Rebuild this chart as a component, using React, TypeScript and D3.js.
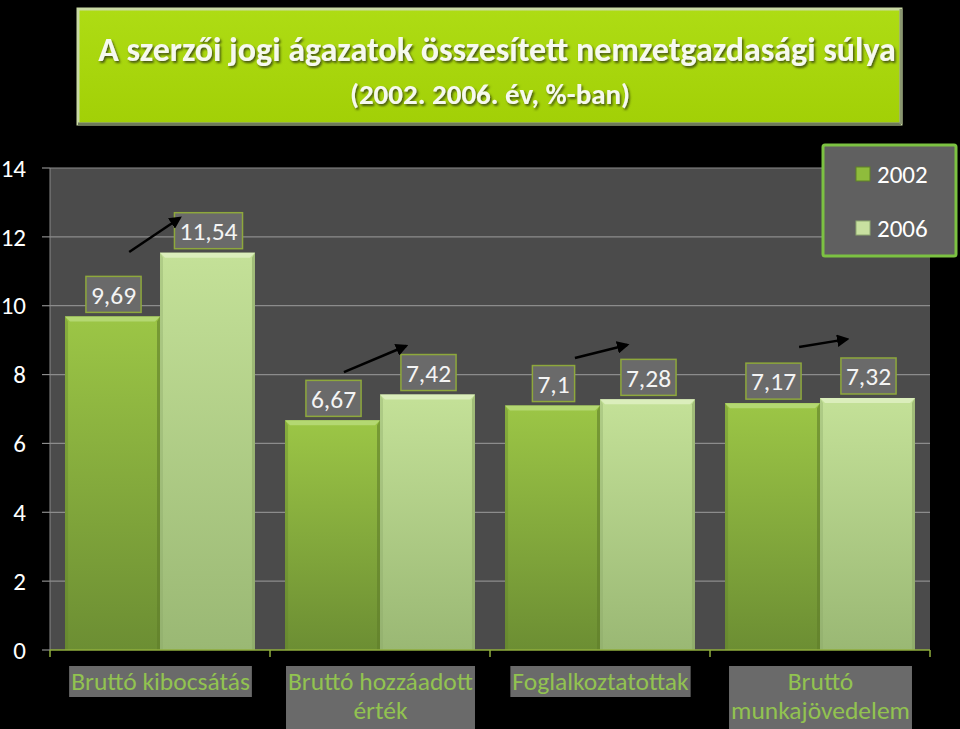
import React, { useEffect, useRef } from "react";
import * as d3 from "d3";

const categories: string[][] = [
  ["Bruttó kibocsátás"],
  ["Bruttó hozzáadott", "érték"],
  ["Foglalkoztatottak"],
  ["Bruttó", "munkajövedelem"],
];
const categoryKeys = ["k1", "k2", "k3", "k4"];
const seriesNames = ["2002", "2006"];
const values2002 = [9.69, 6.67, 7.1, 7.17];
const values2006 = [11.54, 7.42, 7.28, 7.32];
const labels2002 = ["9,69", "6,67", "7,1", "7,17"];
const labels2006 = ["11,54", "7,42", "7,28", "7,32"];
const yTicks = [0, 2, 4, 6, 8, 10, 12, 14];
// arrows: category index, start/end position within category (fraction), start/end value
const arrowCat = [0, 1, 2, 3];
const arrowX0 = [0.36, 0.336, 0.386, 0.405];
const arrowX1 = [0.59, 0.618, 0.623, 0.623];
const arrowV0 = [11.56, 8.07, 8.48, 8.8];
const arrowV1 = [12.55, 8.83, 8.86, 9.03];
const titleLine1 = "A szerzői jogi ágazatok összesített nemzetgazdasági súlya";
const titleLine2 = "(2002. 2006. év, %-ban)";

const FONT = "Carlito, Calibri, Lato, 'Open Sans', sans-serif";

export default function App() {
  const ref = useRef<SVGSVGElement>(null);
  useEffect(() => {
    document.body.style.margin = "0";
    document.body.style.background = "#000";
    const svg = d3.select(ref.current!);
    svg.selectAll("*").remove();
    const W = 960, H = 729;
    const L = 50, R = 930, T = 168, B = 650;

    const defs = svg.append("defs");
    const g1 = defs.append("linearGradient").attr("id", "g2002").attr("x1", 0).attr("y1", 0).attr("x2", 0).attr("y2", 1);
    g1.append("stop").attr("offset", "0%").attr("stop-color", "#9cc646");
    g1.append("stop").attr("offset", "100%").attr("stop-color", "#6c8e33");
    const g2 = defs.append("linearGradient").attr("id", "g2006").attr("x1", 0).attr("y1", 0).attr("x2", 0).attr("y2", 1);
    g2.append("stop").attr("offset", "0%").attr("stop-color", "#c4e198");
    g2.append("stop").attr("offset", "100%").attr("stop-color", "#9ab874");
    const tg = defs.append("linearGradient").attr("id", "gtitle").attr("x1", 0).attr("y1", 0).attr("x2", 0).attr("y2", 1);
    tg.append("stop").attr("offset", "0%").attr("stop-color", "#aedc14");
    tg.append("stop").attr("offset", "100%").attr("stop-color", "#a2d006");
    const sh = defs.append("filter").attr("id", "tshadow").attr("x", "-10%").attr("y", "-30%").attr("width", "120%").attr("height", "160%");
    sh.append("feDropShadow").attr("dx", 1.5).attr("dy", 2).attr("stdDeviation", 1.2).attr("flood-color", "#3a4a10").attr("flood-opacity", 0.9);
    const mk = defs.append("marker").attr("id", "arrow").attr("viewBox", "0 0 10 10").attr("refX", 8).attr("refY", 5)
      .attr("markerWidth", 5).attr("markerHeight", 5).attr("orient", "auto");
    mk.append("path").attr("d", "M0,0 L10,5 L0,10 z").attr("fill", "#000");

    svg.append("rect").attr("width", W).attr("height", H).attr("fill", "#000");

    // Title box
    svg.append("rect").attr("x", 78).attr("y", 9).attr("width", 823).attr("height", 115)
      .attr("fill", "url(#gtitle)").attr("stroke", "#c9d9a4").attr("stroke-width", 3);
    svg.append("line").attr("x1", 78).attr("x2", 901).attr("y1", 124).attr("y2", 124).attr("stroke", "#6f7a5a").attr("stroke-width", 3);
    svg.append("line").attr("x1", 901).attr("x2", 901).attr("y1", 9).attr("y2", 124).attr("stroke", "#8a9670").attr("stroke-width", 3);
    svg.append("text").attr("x", 497).attr("y", 61).attr("text-anchor", "middle")
      .attr("font-family", FONT).attr("font-weight", "bold").attr("font-size", 34)
      .attr("fill", "#f6f9ee").attr("filter", "url(#tshadow)").text(titleLine1);
    svg.append("text").attr("x", 490).attr("y", 104).attr("text-anchor", "middle")
      .attr("font-family", FONT).attr("font-weight", "bold").attr("font-size", 29)
      .attr("fill", "#f6f9ee").attr("filter", "url(#tshadow)").text(titleLine2);

    const y = d3.scaleLinear().domain([0, 14]).range([B, T]);
    const x0 = d3.scaleBand<string>().domain(categoryKeys).range([L, R]).paddingInner(0).paddingOuter(0);
    const x1 = d3.scaleBand<string>().domain(seriesNames).range([0, x0.bandwidth()]).paddingInner(0).paddingOuter(0.158);

    // plot area
    svg.append("rect").attr("x", L).attr("y", T).attr("width", R - L).attr("height", B - T).attr("fill", "#4b4b4b");
    svg.append("line").attr("x1", L).attr("x2", L).attr("y1", T).attr("y2", B).attr("stroke", "#8a8a8a").attr("stroke-width", 1);

    yTicks.forEach((t) => {
      if (t > 0) {
        svg.append("line").attr("x1", L).attr("x2", R).attr("y1", y(t)).attr("y2", y(t))
          .attr("stroke", "#8c8c8c").attr("stroke-width", 1.2);
      }
      svg.append("line").attr("x1", L - 8).attr("x2", L).attr("y1", y(t)).attr("y2", y(t))
        .attr("stroke", "#8c8c8c").attr("stroke-width", 1.2);
      svg.append("text").attr("x", 26).attr("y", y(t)).attr("dy", "0.35em").attr("text-anchor", "end")
        .attr("font-family", FONT).attr("font-size", 25).attr("fill", "#ffffff").text(String(t));
    });

    const seriesVals = [values2002, values2006];
    const seriesLabels = [labels2002, labels2006];
    const grads = ["url(#g2002)", "url(#g2006)"];
    const tops = ["#b4d872", "#dbeebc"];
    const edges = ["#5f7d2a", "#8aa566"];

    seriesNames.forEach((s, si) => {
      categoryKeys.forEach((c, ci) => {
        const v = seriesVals[si][ci];
        const bx = x0(c)! + x1(s)!;
        const bw = x1.bandwidth();
        const by = y(v);
        const bh = B - by;
        const gg = svg.append("g");
        gg.append("rect").attr("x", bx).attr("y", by).attr("width", bw).attr("height", bh).attr("fill", grads[si]);
        gg.append("path").attr("d", `M${bx},${by} L${bx + bw},${by} L${bx + bw - 5},${by + 5} L${bx + 5},${by + 5} Z`).attr("fill", tops[si]);
        gg.append("path").attr("d", `M${bx + bw},${by} L${bx + bw},${B} L${bx + bw - 3},${B} L${bx + bw - 3},${by + 5} Z`).attr("fill", edges[si]).attr("opacity", 0.6);
        gg.append("path").attr("d", `M${bx},${by} L${bx},${B} L${bx + 3},${B} L${bx + 3},${by + 5} Z`).attr("fill", edges[si]).attr("opacity", 0.35);
      });
    });

    // data labels
    seriesNames.forEach((s, si) => {
      categoryKeys.forEach((c, ci) => {
        const v = seriesVals[si][ci];
        const cx = x0(c)! + x1(s)! + x1.bandwidth() / 2 + 1;
        const boxBottom = y(v) - 4;
        const gg = svg.append("g");
        const rect = gg.append("rect");
        const txt = gg.append("text").attr("x", cx).attr("y", boxBottom - 18).attr("dy", "0.36em")
          .attr("text-anchor", "middle").attr("font-family", FONT).attr("font-size", 25.5).attr("fill", "#f4f4f4")
          .text(seriesLabels[si][ci]);
        const tw = (txt.node() as SVGTextElement).getComputedTextLength();
        const w = tw + 10;
        rect.attr("x", cx - w / 2).attr("y", boxBottom - 36).attr("width", w).attr("height", 36)
          .attr("fill", "#6a6a6a").attr("stroke", "#8ea83c").attr("stroke-width", 1.5);
      });
    });

    // arrows
    arrowCat.forEach((ci, i) => {
      const c = categoryKeys[ci];
      const bx = x0(c)!;
      const bw = x0.bandwidth();
      svg.append("line")
        .attr("x1", bx + arrowX0[i] * bw).attr("y1", y(arrowV0[i]))
        .attr("x2", bx + arrowX1[i] * bw).attr("y2", y(arrowV1[i]))
        .attr("stroke", "#000").attr("stroke-width", 2.5).attr("marker-end", "url(#arrow)");
    });

    // x axis
    svg.append("line").attr("x1", L).attr("x2", R).attr("y1", B).attr("y2", B).attr("stroke", "#8fae3c").attr("stroke-width", 1.5);
    const bounds = categoryKeys.map((c) => x0(c)!).concat([R]);
    bounds.forEach((bx) => {
      svg.append("line").attr("x1", bx).attr("x2", bx).attr("y1", B).attr("y2", B + 7).attr("stroke", "#8fae3c").attr("stroke-width", 1.5);
    });

    categoryKeys.forEach((c, ci) => {
      const cx = x0(c)! + x0.bandwidth() / 2 + 0.5;
      const lines = categories[ci];
      const gg = svg.append("g");
      const rect = gg.append("rect");
      let maxW = 0;
      lines.forEach((ln, li) => {
        const t = gg.append("text").attr("x", cx).attr("y", 690 + li * 29).attr("text-anchor", "middle")
          .attr("font-family", FONT).attr("font-size", 25.5).attr("fill", "#92c350").text(ln);
        maxW = Math.max(maxW, (t.node() as SVGTextElement).getComputedTextLength());
      });
      const w = maxW + 4;
      rect.attr("x", cx - w / 2).attr("y", 666).attr("width", w).attr("height", lines.length === 1 ? 31 : 63).attr("fill", "#6a6a6a");
    });

    // legend
    svg.append("rect").attr("x", 823).attr("y", 145).attr("width", 133).attr("height", 111).attr("rx", 2)
      .attr("fill", "#606060").attr("stroke", "#7cc242").attr("stroke-width", 3);
    const legCol = [["#8fbc3c", "#5f8026"], ["#c8e0a0", "#8ea870"]];
    seriesNames.forEach((s, si) => {
      const ly = 174 + si * 54;
      svg.append("rect").attr("x", 856).attr("y", ly - 7).attr("width", 14).attr("height", 14)
        .attr("fill", legCol[si][0]).attr("stroke", legCol[si][1]).attr("stroke-width", 1);
      svg.append("text").attr("x", 877).attr("y", ly).attr("dy", "0.36em").attr("font-family", FONT)
        .attr("font-size", 25).attr("fill", "#ffffff").text(s);
    });
  }, []);
  return <svg ref={ref} width={960} height={729} style={{ display: "block" }} />;
}
